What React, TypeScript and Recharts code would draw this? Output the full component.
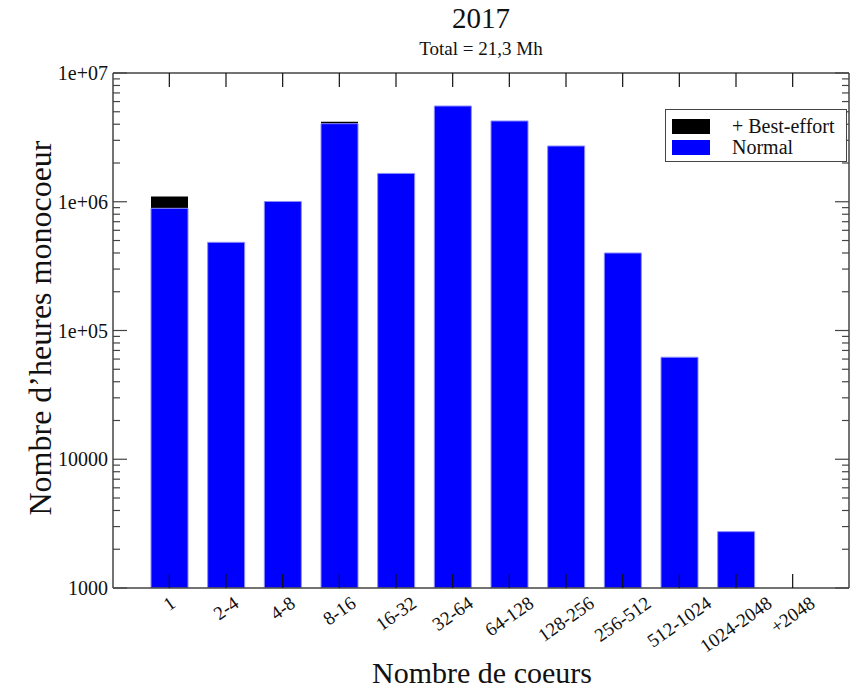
import { BarChart, Bar, XAxis, YAxis, Label } from "recharts";

const CATEGORIES = ["1", "2-4", "4-8", "8-16", "16-32", "32-64", "64-128", "128-256", "256-512", "512-1024", "1024-2048", "+2048"];
// heures monocoeur, jobs normaux
const NORMAL = [889000, 484000, 1005000, 4040000, 1660000, 5540000, 4240000, 2710000, 400000, 62000, 2740, null];
// heures monocoeur, jobs best-effort (empilees au-dessus)
const BEST_EFFORT = [211000, 0, 0, 150000, 0, 0, 0, 0, 0, 0, 0, 0];

const Y_DECADES = [1000, 10000, 100000, 1000000, 10000000];
const Y_LABELS = ["1000", "10000", "1e+05", "1e+06", "1e+07"];
const Y_TICKS = Y_DECADES.flatMap((d, i) =>
  i === Y_DECADES.length - 1 ? [d] : [1, 2, 3, 4, 5, 6, 7, 8, 9].map((m) => d * m)
);

const FONT = "'Liberation Serif', 'DejaVu Serif', serif";
const AXIS = "#444";
const BLUE = "#0000ff";
const TICK_FS = 19;
const ANGLE = 35;

const data = CATEGORIES.map((cat, i) => {
  const n = NORMAL[i];
  const be = BEST_EFFORT[i];
  return {
    cat,
    normal: n,
    total: n != null && be > 0 ? n + be : null,
  };
});

function isMajor(v: number) {
  return Y_DECADES.includes(v);
}

// largeur approx. d'un libelle en Times (em)
function textWidth(s: string, fs: number) {
  let w = 0;
  for (const ch of s) w += ch === "-" ? 0.333 : ch === "+" ? 0.564 : 0.5;
  return w * fs;
}

function LeftTick(props: any) {
  const { x, y, payload } = props;
  const v = payload.value;
  const major = isMajor(v);
  const len = major ? 14 : 7;
  const idx = Y_DECADES.indexOf(v);
  return (
    <g>
      <line x1={x} x2={x + len} y1={y} y2={y} stroke={AXIS} strokeWidth={1.2} />
      {major ? (
        <text x={x - 5} y={y} dy="0.35em" textAnchor="end" fontSize={20} fontFamily={FONT} fill="#111">
          {Y_LABELS[idx]}
        </text>
      ) : null}
    </g>
  );
}

function RightTick(props: any) {
  const { x, y, payload } = props;
  const len = isMajor(payload.value) ? 14 : 7;
  return <line x1={x} x2={x - len} y1={y} y2={y} stroke={AXIS} strokeWidth={1.2} />;
}

function BottomTick(props: any) {
  const { x, y, payload } = props;
  const L = textWidth(String(payload.value), TICK_FS);
  const cy = y + 13 + (L / 2) * Math.sin((ANGLE * Math.PI) / 180);
  return (
    <g>
      <line x1={x} x2={x} y1={y} y2={y - 14} stroke="#111" strokeWidth={1.2} />
      <text
        x={x}
        y={cy}
        dy="0.33em"
        textAnchor="middle"
        fontSize={TICK_FS}
        fontFamily={FONT}
        fill="#111"
        transform={`rotate(-${ANGLE} ${x} ${cy})`}
      >
        {payload.value}
      </text>
    </g>
  );
}

function TopTick(props: any) {
  const { x, y } = props;
  return <line x1={x} x2={x} y1={y} y2={y + 14} stroke="#111" strokeWidth={1.2} />;
}

function LegendBox() {
  const row = { display: "flex", alignItems: "center", height: 21 } as const;
  const sw = { width: 38, height: 15, marginRight: 22 };
  return (
    <div
      style={{
        position: "absolute",
        left: 665,
        top: 109,
        width: 182,
        height: 53,
        border: `1px solid ${AXIS}`,
        background: "#fff",
        boxSizing: "border-box",
        padding: "6px 0 0 6px",
        fontFamily: FONT,
        fontSize: 20,
        lineHeight: "21px",
        color: "#111",
      }}
    >
      <div style={row}>
        <span style={{ ...sw, background: "#000" }} />
        <span>+ Best-effort</span>
      </div>
      <div style={row}>
        <span style={{ ...sw, background: BLUE }} />
        <span>Normal</span>
      </div>
    </div>
  );
}

export default function App() {
  return (
    <div style={{ position: "absolute", left: 0, top: 0, width: 862, height: 692, background: "#fff" }}>
      <BarChart
        width={862}
        height={692}
        data={data}
        margin={{ top: 72, right: 12, bottom: 0, left: 5 }}
        barSize={37}
      >
        <XAxis
          xAxisId="bottom"
          dataKey="cat"
          orientation="bottom"
          height={104}
          padding={{ left: 28, right: 28 }}
          interval={0}
          tickLine={false}
          tickSize={0}
          tickMargin={0}
          tick={(p: any) => <BottomTick {...p} />}
          stroke={AXIS}
          strokeWidth={1.5}
        >
          <Label
            content={() => (
              <text x={482} y={683} textAnchor="middle" fontSize={30} fontFamily={FONT} fill="#111">
                Nombre de coeurs
              </text>
            )}
          />
        </XAxis>
        <XAxis
          xAxisId="top"
          dataKey="cat"
          orientation="top"
          height={1}
          padding={{ left: 28, right: 28 }}
          interval={0}
          tickLine={false}
          tickSize={0}
          tickMargin={0}
          tick={(p: any) => <TopTick {...p} />}
          stroke={AXIS}
          strokeWidth={1.5}
        >
          <Label
            content={() => (
              <g fontFamily={FONT} fill="#111" textAnchor="middle">
                <text x={481} y={28} fontSize={29}>2017</text>
                <text x={481} y={55} fontSize={19}>Total = 21,3 Mh</text>
              </g>
            )}
          />
        </XAxis>
        <YAxis
          yAxisId="left"
          type="number"
          scale="log"
          domain={[1000, 10000000]}
          allowDataOverflow
          ticks={Y_TICKS}
          interval={0}
          width={108}
          tickLine={false}
          tickSize={0}
          tickMargin={0}
          tick={(p: any) => <LeftTick {...p} />}
          stroke={AXIS}
          strokeWidth={1.5}
        >
          <Label
            content={() => (
              <text
                x={40}
                y={328}
                textAnchor="middle"
                fontSize={32}
                fontFamily={FONT}
                fill="#111"
                transform="rotate(-90 40 328)"
                dy="0.35em"
              >
                Nombre d’heures monocoeur
              </text>
            )}
          />
        </YAxis>
        <YAxis
          yAxisId="right"
          orientation="right"
          type="number"
          scale="log"
          domain={[1000, 10000000]}
          allowDataOverflow
          ticks={Y_TICKS}
          interval={0}
          width={1}
          tickLine={false}
          tickSize={0}
          tickMargin={0}
          tick={(p: any) => <RightTick {...p} />}
          stroke={AXIS}
          strokeWidth={1.5}
        />
        <Bar xAxisId="top" yAxisId="left" dataKey="total" fill="#000" isAnimationActive={false} />
        <Bar
          xAxisId="bottom"
          yAxisId="left"
          dataKey="normal"
          fill={BLUE}
          stroke="#8c8cff"
          strokeWidth={1}
          isAnimationActive={false}
        />
      </BarChart>
      <LegendBox />
    </div>
  );
}
